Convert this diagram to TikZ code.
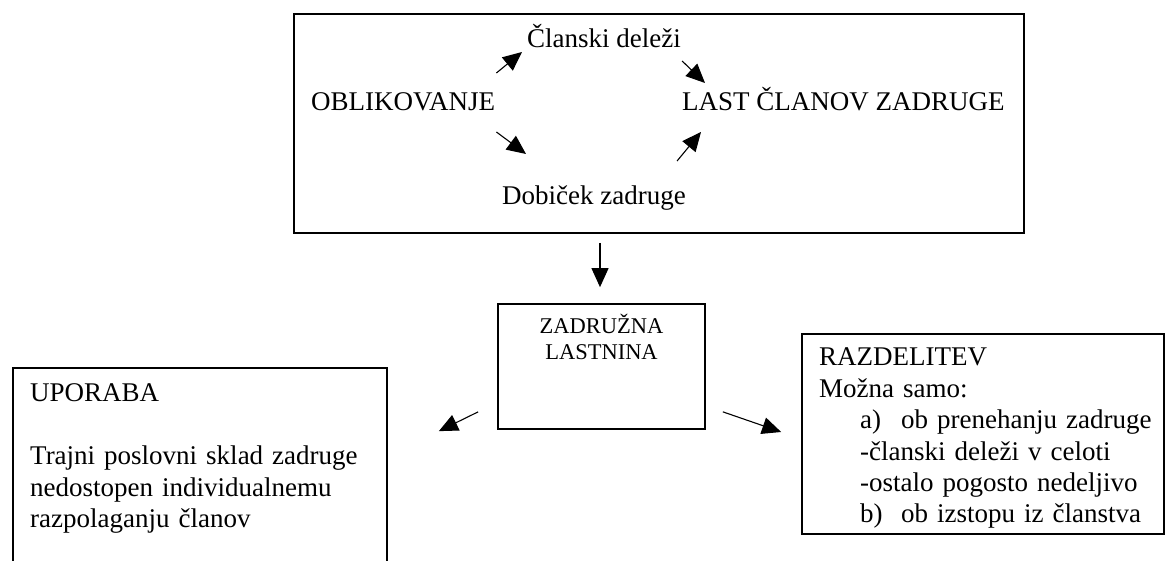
\documentclass[tikz,border=0pt]{standalone}
\usepackage{fontspec}
\setmainfont{Liberation Serif}
\usetikzlibrary{arrows.meta}

\begin{document}
\begin{tikzpicture}[x=1pt, y=1pt,
        frame/.style={draw, line width=1.7pt, inner sep=0pt},
        txt/.style={inner sep=0pt, font=\fontsize{27}{31.4}\selectfont},
        small/.style={inner sep=0pt, font=\fontsize{22.5}{26}\selectfont, text width=200pt, align=center},
        arr/.style={line width=1.1pt, -{Triangle[length=19pt, width=17pt]}}]
            \useasboundingbox (0, 0) rectangle (1166, 561);
            \clip (0, 0) rectangle (1166, 561);
            % zgornji okvir
            \node[frame, minimum width=730pt, minimum height=219pt] (top) at (659, 437.5) {};
            \node[txt, anchor=base west] (clanski) at (527, 513) {Članski deleži};
            \node[txt, anchor=base west] (oblik) at (311, 450) {OBLIKOVANJE};
            \node[txt, anchor=base west] (last) at (682, 450) {LAST ČLANOV ZADRUGE};
            \node[txt, anchor=base west] (dobicek) at (502, 356) {Dobiček zadruge};
            \draw[arr] ([shift={(1, 38)}]oblik.base east)--([shift={(-5, -4)}]clanski.base west);
            \draw[arr] ([shift={(1, -13)}]clanski.base east)--([shift={(23, 28)}]last.base west);
            \draw[arr] ([shift={(1, -21)}]oblik.base east)--([shift={(24, 51)}]dobicek.base west);
            \draw[arr] ([shift={(-9, 44)}]dobicek.base east)--([shift={(19, -21)}]last.base west);
            % zadruzna lastnina
            \node[frame, minimum width=207pt, minimum height=125pt] (zadr) at (601.5, 194.5) {};
            \node[small, anchor=base] (zadrtxt) at (601.5, 227) {ZADRUŽNA\\LASTNINA};
            \draw[arr] ([shift={(-59, -9)}]top.south)--([shift={(-1.5, 16)}]zadr.north);
            % uporaba in razdelitev
            \node[frame, minimum width=374pt, minimum height=213pt] (upo) at (200, 86.5) {};
            \node[txt, anchor=base west, text width=350pt, align=left] (upotxt) at (30, 159)
                {UPORABA\\[31.4pt]Trajni poslovni sklad zadruge\\nedostopen individualnemu\\razpolaganju članov};
            \node[frame, minimum width=362pt, minimum height=200pt] (razd) at (983, 127) {};
            \node[txt, anchor=base west, text width=340pt, align=left] (razdtxt) at (819, 195)
                {RAZDELITEV\\Možna samo:\\
                \hspace*{41pt}\makebox[41pt][l]{a)}ob prenehanju zadruge\\
                \hspace*{41pt}-članski deleži v celoti\\
                \hspace*{41pt}-ostalo pogosto nedeljivo\\
                \hspace*{41pt}\makebox[41pt][l]{b)}ob izstopu iz članstva};
            \draw[arr] ([shift={(-19, 18)}]zadr.south west)--([shift={(51, -64)}]upo.north east);
            \draw[arr] ([shift={(17, 18)}]zadr.south east)--([shift={(-20, 2)}]razd.west);
        \end{tikzpicture}
\end{document}
